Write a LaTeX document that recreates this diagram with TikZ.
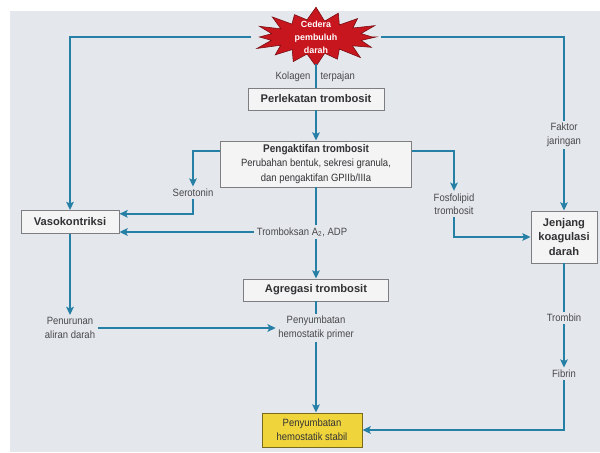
\documentclass[tikz,border=0pt]{standalone}
\usepackage{fontspec}
\setmainfont{Liberation Sans}
\newfontfamily\narrowfont{Liberation Sans}[FakeStretch=0.9]
\usepackage{xcolor}
\usepackage{tikz}
\usetikzlibrary{arrows.meta, positioning, calc}
\definecolor{flowblue}{RGB}{38,128,165}
\definecolor{paper}{RGB}{228,231,236}
\definecolor{boxfill}{RGB}{244,244,245}
\definecolor{boxline}{RGB}{125,125,130}
\definecolor{injred}{RGB}{200,22,30}
\definecolor{stabfill}{RGB}{240,212,60}
\definecolor{inkgray}{RGB}{72,72,74}
\tikzset{
    stagebox/.style={
        rectangle, draw=boxline, fill=boxfill, line width=0.8pt,
        align=center, text=inkgray!70!black, inner sep=2pt,
        font=\fontsize{9.5}{12}\selectfont\bfseries
    },
    steptext/.style={
        align=center, text=inkgray, inner sep=2pt,
        font=\narrowfont\fontsize{9}{11.5}\selectfont
    },
    flowline/.style={draw=flowblue, line width=1.7pt},
    flowarrow/.style={
        flowline, -{Stealth[length=7pt, width=6.5pt, inset=1.5pt]}
    }
}

\begin{document}
\begin{tikzpicture}[x=0.03cm, y=-0.03cm]
    \useasboundingbox (0,0) rectangle (600,452);
    \fill[paper] (10,11) rectangle (600,452);

    % injury burst
    \begin{scope}[shift={(316,37)}]
        \filldraw[fill=injred, draw=injred!60!black, line width=0.5pt]
            (0:60 and 27) \foreach \k in {0,...,15} {
                -- ({\k*22.5+11.25}:{44+2*cos(\k*97)} and {16+1.5*cos(\k*97)})
                -- ({\k*22.5+22.5}:{60+4*sin(\k*137)} and {27+3*sin(\k*137)})
            } -- cycle;
    \end{scope}
    \node [text=white, align=center, minimum width=3.9cm, minimum height=1.6cm,
        font=\fontsize{7.6}{11}\selectfont\bfseries] (inj) at (316,37) {Cedera\\pembuluh\\darah};

    \node [steptext, anchor=east] (kol) at (313,77) {Kolagen};
    \node [steptext, anchor=west] (terp) at (318,77) {terpajan};

    \node [stagebox, minimum width=4.08cm, minimum height=0.66cm] (perl) at (316,99) {Perlekatan trombosit};
    \node [stagebox, minimum width=5.73cm, minimum height=1.38cm, font=\narrowfont\fontsize{9}{12.3}\selectfont]
        (peng) at (316,164) {{\fontsize{9.5}{12}\selectfont\bfseries Pengaktifan trombosit}\\Perubahan bentuk, sekresi granula,\\dan pengaktifan GPIIb/IIIa};
    \node [steptext] (sero) at (193,193) {Serotonin};
    \node [stagebox, minimum width=2.94cm, minimum height=0.69cm] (vaso) at (70,222) {Vasokontriksi};
    \node [steptext] (trom) at (302,232) {Tromboksan A\textsubscript{2}, ADP};
    \node [stagebox, minimum width=4.35cm, minimum height=0.66cm] (agr) at (316,290) {Agregasi trombosit};
    \node [steptext] (penu) at (70,328) {Penurunan\\aliran darah};
    \node [steptext] (prim) at (316,328) {Penyumbatan\\hemostatik primer};
    \node [stagebox, fill=stabfill, draw=stabfill!50!black, minimum width=3cm, minimum height=1.02cm,
        font=\narrowfont\fontsize{9}{12}\selectfont] (stab) at (312,430) {Penyumbatan\\hemostatik stabil};
    \node [steptext] (fos) at (454,204) {Fosfolipid\\trombosit};
    \node [steptext] (fak) at (564,135) {Faktor\\jaringan};
    \node [stagebox, minimum width=1.98cm, minimum height=1.56cm] (jenj) at (564,237) {Jenjang\\koagulasi\\darah};
    \node [steptext] (trb) at (564,318) {Trombin};
    \node [steptext] (fib) at (564,374) {Fibrin};

    \draw[flowarrow] (inj.west) -| (vaso.north);
    \draw[flowline] (inj.east) -| (fak.north);
    \draw[flowarrow] (fak) -- (jenj);
    \draw[flowline] (inj.south) -- (perl.north);
    \draw[flowarrow] (perl) -- (peng);
    \draw[flowarrow] ([yshift=11pt]peng.west) -| (sero.north);
    \draw[flowarrow] (sero.south) |- ([yshift=7pt]vaso.east);
    \draw[flowarrow] (trom.west) -- (trom.west -| vaso.east);
    \draw[flowline] (peng.south) -- (peng.south |- trom.north);
    \draw[flowarrow] (peng.south |- trom.south) -- (agr.north);
    \draw[flowline] (agr.south) -- (prim.north);
    \draw[flowarrow] (prim.south) -- (prim.south |- stab.north);
    \draw[flowarrow] (vaso) -- (penu);
    \draw[flowarrow] (penu) -- (prim);
    \draw[flowarrow] ([yshift=11pt]peng.east) -| (fos.north);
    \draw[flowarrow] (fos.south) |- (jenj.west);
    \draw[flowline] (jenj) -- (trb);
    \draw[flowarrow] (trb) -- (fib);
    \draw[flowarrow] (fib.south) |- (stab.east);
\end{tikzpicture}
\end{document}
